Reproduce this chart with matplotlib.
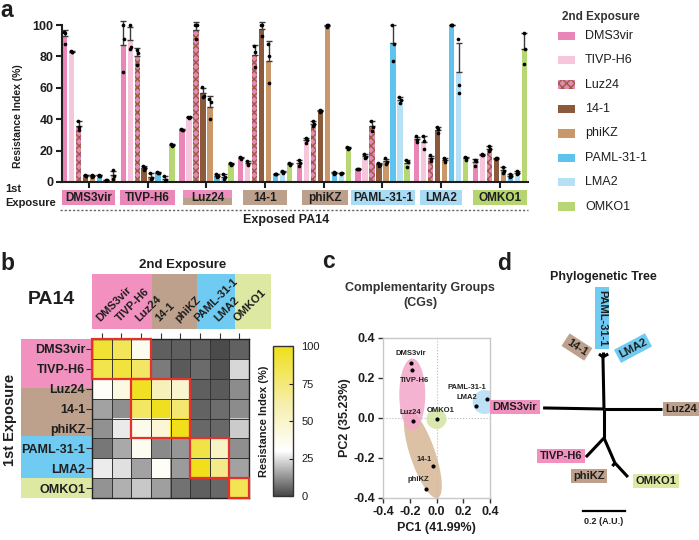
import numpy as np
import matplotlib
matplotlib.use('Agg')
import matplotlib.pyplot as plt
from matplotlib.patches import Rectangle, Polygon
from matplotlib.colors import LinearSegmentedColormap

plt.rcParams['font.family'] = ['Liberation Sans', 'DejaVu Sans']
plt.rcParams['axes.unicode_minus'] = False
plt.rcParams['hatch.linewidth'] = 1.0

W, H = 699, 540
TXT = '#1e1e1e'

# ---------------- data ----------------
phages = ['DMS3vir', 'TIVP-H6', 'Luz24', '14-1', 'phiKZ', 'PAML-31-1', 'LMA2', 'OMKO1']

# replicate resistance index (%) of each 2nd-exposure phage, per 1st-exposure group (same order)
ri_DMS3vir = [[95.5, 95, 88], [100, 91, 70], [33.5, 33, 33], [16, 15, 14.5],
              [14, 12, 10.5], [8.5, 8, 8], [29, 27, 25.5], [14, 13.5, 10.5]]
ri_TIVP_H6 = [[83.5, 83, 82.5], [100, 86, 85], [41.5, 41.5, 41], [13.5, 11.5, 11],
              [28, 27, 25], [18, 16, 15], [29, 26, 21], [18, 17.5, 17]]
ri_Luz24 = [[39, 35, 33], [84, 82, 74.5], [100, 100, 91], [86.5, 82.5, 73.5],
            [39, 37, 35.5], [39, 35, 32.5], [17, 14.5, 13.5], [23, 21, 19.5]]
ri_14_1 = [[4.5, 4, 4], [10, 9, 7.5], [60.5, 55, 54], [100, 100, 93],
           [46, 45, 44.5], [12, 11, 10.5], [35, 33.5, 31.5], [15, 15, 14.5]]
ri_phiKZ = [[4.5, 4, 3.5], [6, 2.5, 2], [53, 51, 40], [88, 80, 63],
            [100, 100, 99], [15, 13, 11.5], [15, 14, 12.5], [9.5, 7, 5.5]]
ri_PAML = [[4.5, 4, 4], [6.5, 6, 5.5], [5, 4, 3], [5, 5, 5],
           [6.5, 5.5, 5], [100, 88, 77], [100, 100, 100], [5, 4, 3]]
ri_LMA2 = [[1.5, 1, 0.5], [4, 1.5, 0.5], [5, 3, 2], [7, 6.5, 6],
           [6, 5.5, 5], [54, 52, 50], [91, 62, 57], [7, 5.5, 5]]
ri_OMKO1 = [[7.5, 4, 2], [24, 23.5, 23], [12, 11.5, 11], [12, 11.5, 11],
            [22, 21.5, 21], [14, 12.5, 9.5], [16, 15, 14], [95, 85, 75]]
ri_series = [ri_DMS3vir, ri_TIVP_H6, ri_Luz24, ri_14_1, ri_phiKZ, ri_PAML, ri_LMA2, ri_OMKO1]

# PCA coordinates
pc1 = [-0.193, -0.185, -0.175, -0.025, -0.075, 0.375, 0.295, 0.0]
pc2 = [0.276, 0.239, -0.017, -0.238, -0.356, 0.097, 0.060, -0.005]

# phylogenetic tree (A.U.)
tree_nodes = {'root': (0.0, 0.0), 'DMS3vir': (-0.290, 0.005), 'Luz24': (0.276, 0.0),
              'top': (-0.005, 0.248), 'PAML-31-1': (-0.005, 0.270), '14-1': (-0.024, 0.262),
              'LMA2': (0.020, 0.262), 'bottom': (0.0, -0.138), 'TIVP-H6': (-0.086, -0.229),
              'mid': (0.052, -0.257), 'OMKO1': (0.114, -0.324), 'phiKZ': (0.040, -0.272)}
tree_edges = [('root', 'DMS3vir'), ('root', 'Luz24'), ('root', 'top'), ('top', 'PAML-31-1'),
              ('top', '14-1'), ('top', 'LMA2'), ('root', 'bottom'), ('bottom', 'TIVP-H6'),
              ('bottom', 'mid'), ('mid', 'OMKO1'), ('mid', 'phiKZ')]
scale_bar_len = 0.2

# ---------------- styles ----------------
bar_colors = ['#e986b7', '#f6c6dd', '#e986b7', '#8b5a3a', '#c8976a', '#5ec4ee', '#b5e0f6', '#b7d775']
hatch_brown = '#93603f'
grp_pink, grp_brown, grp_blue, grp_green = '#f291c0', '#bea18c', '#6fcbf1', '#dde9a3'
phage_group_color = [grp_pink, grp_pink, grp_brown, grp_brown, grp_brown, grp_blue, grp_blue, grp_green]

fig = plt.figure(figsize=(W / 100, H / 100), dpi=100)
fig.patch.set_facecolor('white')


def px_axes(x0, y0, x1, y1, **kw):
    return fig.add_axes([x0 / W, 1 - y1 / H, (x1 - x0) / W, (y1 - y0) / H], **kw)


ov = px_axes(0, 0, W, H)
ov.set_xlim(0, W)
ov.set_ylim(H, 0)
ov.axis('off')

# panel letters
for lt, (lx, ly) in zip('abcd', [(0, 17), (0, 270), (322, 268), (497, 270)]):
    ov.text(lx, ly, lt, fontsize=16.5, fontweight='bold', va='baseline', ha='left', color=TXT)

# ================= panel a =================
axa = px_axes(62, 25 - 3 * 1.57, 528, 182)
n = len(phages)
gx = np.arange(n)
step, bw = 0.119, 0.092
means = []
for s, reps in enumerate(ri_series):
    arr = np.array(reps, float)
    m = arr.mean(1)
    sd = arr.std(1, ddof=1)
    means.append(m)
    x = gx + (s - 3.5) * step
    if phages[s] == 'Luz24':
        axa.bar(x, m, bw, color=bar_colors[s], edgecolor=hatch_brown, linewidth=0,
                hatch='xxxx', zorder=2)
    else:
        axa.bar(x, m, bw, color=bar_colors[s], linewidth=0, zorder=2)
    axa.errorbar(x, m, yerr=[np.zeros(n), sd], fmt='none', ecolor='#3a3a3a',
                 elinewidth=1.0, capsize=2.0, capthick=1.0, zorder=3)
    for k, off in enumerate([-0.012, 0.012, 0.0]):
        axa.scatter(x + off, arr[:, k], s=7, color='black', linewidths=0, zorder=4)
means = np.array(means)  # [series, group]

axa.set_xlim(-0.46, 7.48)
axa.set_ylim(0, 103)
axa.spines['left'].set_bounds(0, 100)
for sp in ['top', 'right']:
    axa.spines[sp].set_visible(False)
for sp in ['left', 'bottom']:
    axa.spines[sp].set_linewidth(1.5)
    axa.spines[sp].set_color(TXT)
axa.set_xticks(gx)
axa.set_xticklabels([])
axa.set_yticks([0, 20, 40, 60, 80, 100])
axa.set_yticklabels(['0', '20', '40', '60', '80', '100'], fontweight='bold', fontsize=9, color=TXT)
axa.tick_params(axis='both', length=4, width=1.5, color=TXT, pad=2)
axa.patch.set_alpha(0)
ov.text(18, 116, 'Resistance Index (%)', rotation=90, ha='center', va='center',
        fontsize=7.5, fontweight='bold', color=TXT)

# category boxes under panel a
cat_box_px = [(62, 115), (120, 175), (183, 232), (243, 287), (302, 348), (351, 415), (420, 462), (473, 527)]
cat_box_col = ['#e987b8', '#e987b8', None, '#bda08b', '#bda08b', '#a9dcf4', '#a9dcf4', '#b6d46f']
for name, (x0, x1), c in zip(phages, cat_box_px, cat_box_col):
    if c is None:
        ov.add_patch(Rectangle((x0, 190), x1 - x0, 8, fc='#ee8fc0', ec='none'))
        ov.add_patch(Rectangle((x0, 198), x1 - x0, 7, fc='#bda08b', ec='none'))
    else:
        ov.add_patch(Rectangle((x0, 190), x1 - x0, 15, fc=c, ec='none'))
    ov.text((x0 + x1) / 2, 197.8, name, ha='center', va='center', fontsize=8.5,
            fontweight='bold', color=TXT, zorder=5)
ov.text(5, 189, '1st', ha='left', va='center', fontsize=8, fontweight='bold', color=TXT)
ov.text(5, 203.5, 'Exposure', ha='left', va='center', fontsize=8, fontweight='bold', color=TXT)
ov.plot([60, 528], [210, 210], color='#666666', lw=1.0, ls=(0, (1.6, 1.4)))
ov.text(286, 220, 'Exposed PA14', ha='center', va='center', fontsize=9, fontweight='bold', color=TXT)

# legend
ov.text(562, 16.7, '2nd Exposure', ha='left', va='center', fontsize=8.5, fontweight='bold', color='#333333')
for i, name in enumerate(phages):
    yc = 35.7 + i * 24.4
    if name == 'Luz24':
        ov.add_patch(Rectangle((558, yc - 4.2), 17, 8.4, fc=bar_colors[i], ec=hatch_brown,
                               lw=0, hatch='xxxx'))
    else:
        ov.add_patch(Rectangle((558, yc - 4.2), 17, 8.4, fc=bar_colors[i], ec='none'))
    ov.text(585, yc, name, ha='left', va='center', fontsize=9, color=TXT)

# ================= panel b =================
ov.text(183, 265, '2nd Exposure', ha='center', va='center', fontsize=9.5, fontweight='bold', color=TXT)
ov.text(51, 299.5, 'PA14', ha='center', va='center', fontsize=14, fontweight='bold', color=TXT)
for (x0, x1), c in zip([(92, 152), (152, 197), (197, 235), (235, 271)], [grp_pink, grp_brown, grp_blue, grp_green]):
    ov.add_patch(Rectangle((x0, 274), x1 - x0, 55, fc=c, ec='none'))
for (y0, y1), c in zip([(339, 388), (388, 436), (436, 478), (478, 498)], [grp_pink, grp_brown, grp_blue, grp_green]):
    ov.add_patch(Rectangle((21, y0), 71, y1 - y0, fc=c, ec='none'))
ov.text(10, 420, '1st Exposure', rotation=90, ha='center', va='center', fontsize=10.5,
        fontweight='bold', color=TXT)

heat = means.T  # rows: 1st exposure, cols: 2nd exposure
cmap = LinearSegmentedColormap.from_list('ri', [(0.0, '#474747'), (0.3, '#ffffff'),
                                                (0.62, '#f6eeaa'), (1.0, '#f0df1a')])
axb = px_axes(92, 339, 249, 498)
im = axb.imshow(heat, cmap=cmap, vmin=0, vmax=100, extent=(0, 8, 8, 0), aspect='auto',
                interpolation='nearest')
axb.set_xlim(0, 8)
axb.set_ylim(8, 0)
for k in range(1, 8):
    axb.axvline(k, color='#333333', lw=0.7)
    axb.axhline(k, color='#333333', lw=0.7)
for sp in axb.spines.values():
    sp.set_linewidth(1.0)
    sp.set_color('#222222')
red_blocks = [(0, 0, 3, 2), (2, 2, 3, 3), (5, 5, 2, 2), (7, 7, 1, 1)]
for (c0, r0, w, h) in red_blocks:
    axb.add_patch(Rectangle((c0, r0), w, h, fill=False, ec='#e4312b', lw=1.6, zorder=5, clip_on=False))
axb.xaxis.set_ticks_position('top')
axb.set_xticks(np.arange(8) + 0.5)
axb.set_xticklabels(phages, rotation=45, ha='left', va='bottom', rotation_mode='anchor',
                    fontweight='bold', fontsize=8, color=TXT)
axb.set_yticks(np.arange(8) + 0.5)
axb.set_yticklabels(phages, fontweight='bold', fontsize=9, color=TXT)
axb.tick_params(axis='x', top=True, bottom=False, labeltop=True, labelbottom=False,
                length=4, width=0.8, color='#333333', pad=7)
axb.tick_params(axis='y', length=4, width=0.8, color='#333333', pad=1)

cax = px_axes(273, 346, 293, 496)
cb = fig.colorbar(im, cax=cax, ticks=[0, 25, 50, 75, 100])
cb.outline.set_linewidth(1.0)
cb.outline.set_edgecolor('#333333')
cax.yaxis.set_ticks_position('right')
cax.tick_params(direction='in', length=3, width=0.8, labelsize=8, pad=6, colors=TXT)
cax.yaxis.set_label_position('left')
cb.set_label('Resistance Index (%)', fontweight='bold', fontsize=8, labelpad=3, color=TXT)

# ================= panel c =================
ov.text(420, 288, 'Complementarity Groups', ha='center', va='center', fontsize=9,
        fontweight='bold', color='#333333')
ov.text(420, 303, '(CGs)', ha='center', va='center', fontsize=9, fontweight='bold', color='#333333')

axc = px_axes(383, 338, 490, 498)
axc.set_xlim(-0.4, 0.4)
axc.set_ylim(-0.4, 0.4)
sx, sy = 107 / 0.8, 160 / 0.8


def blob(cx, cy, a_px, b_px, ang, color, alpha):
    t = np.linspace(0, 2 * np.pi, 160)
    ca, sa = np.cos(np.radians(ang)), np.sin(np.radians(ang))
    ux, uy = a_px * np.cos(t), b_px * np.sin(t)
    rx, ry = ux * ca - uy * sa, ux * sa + uy * ca
    axc.add_patch(Polygon(np.c_[cx + rx / sx, cy + ry / sy], closed=True, fc=color,
                          ec='none', alpha=alpha, zorder=1))


blob(-0.102, -0.182, 46, 12.5, 108.8, '#d8b796', 0.85)
blob(-0.181, 0.1175, 13, 36, 0, '#f4a6cb', 0.85)
blob(pc1[7], pc2[7], 10, 10, 0, '#d5e6a6', 0.9)
blob(0.36, 0.08, 12, 12, 0, '#b8def4', 0.9)
axc.axvline(0, color='#bbbbbb', lw=0.8, ls=':', zorder=0)
axc.axhline(0, color='#bbbbbb', lw=0.8, ls=':', zorder=0)
axc.scatter(pc1, pc2, s=9, color='black', linewidths=0, zorder=4)
lab_off = [(0, 9.3), (3, -9.8), (-3, 8.4), (-9.3, 5.7), (-8.4, 9.6), (-20, 10.7), (-9.3, 8.8), (4, 8.5)]
for name, x, y, off in zip(phages, pc1, pc2, lab_off):
    axc.annotate(name, (x, y), xytext=off, textcoords='offset pixels', ha='center', va='center',
                 fontsize=5.5, fontweight='bold', color='#222222', zorder=5)
ticks = [-0.4, -0.2, 0.0, 0.2, 0.4]
tick_lab = ['-0.4', '-0.2', '0.0', '0.2', '0.4']
axc.set_xticks(ticks)
axc.set_xticklabels(tick_lab, fontweight='bold', fontsize=9, color=TXT)
axc.set_yticks(ticks)
axc.set_yticklabels(tick_lab, fontweight='bold', fontsize=9, color=TXT)
axc.tick_params(length=3.5, width=1, color='#333333', pad=2)
for sp in axc.spines.values():
    sp.set_color('#c8c8c8')
    sp.set_linewidth(1.0)
axc.set_xlabel('PC1 (41.99%)', fontweight='bold', fontsize=9, color=TXT, labelpad=3)
axc.set_ylabel('PC2 (35.23%)', fontweight='bold', fontsize=9, color=TXT, labelpad=2)

# ================= panel d =================
ov.text(603, 277, 'Phylogenetic Tree', ha='center', va='center', fontsize=9, fontweight='bold', color=TXT)
ppu = 210.0
rootx, rooty = 604, 409
axd = px_axes(500, 280, 699, 530)
axd.set_xlim((500 - rootx) / ppu, (699 - rootx) / ppu)
axd.set_ylim((rooty - 530) / ppu, (rooty - 280) / ppu)
axd.axis('off')
for a, b in tree_edges:
    (x0, y0), (x1, y1) = tree_nodes[a], tree_nodes[b]
    axd.plot([x0, x1], [y0, y1], color='black', lw=2.2, solid_capstyle='butt', zorder=2)
tree_labels = {'PAML-31-1': ((-0.0095, 0.433), -90), '14-1': ((-0.129, 0.295), -33),
               'LMA2': ((0.138, 0.290), 28), 'DMS3vir': ((-0.424, 0.0095), 0),
               'Luz24': ((0.367, 0.0), 0), 'TIVP-H6': ((-0.205, -0.224), 0),
               'phiKZ': ((-0.071, -0.319), 0), 'OMKO1': ((0.248, -0.343), 0)}
for i, name in enumerate(phages):
    (lx, ly), rot = tree_labels[name]
    axd.text(lx, ly, name, rotation=rot, ha='center', va='center', fontsize=8, fontweight='bold',
             color=TXT, rotation_mode='anchor', zorder=3,
             bbox=dict(boxstyle='square,pad=0.22', fc=phage_group_color[i], ec='none'))
sb_y = (rooty - 511) / ppu
axd.plot([-scale_bar_len / 2, scale_bar_len / 2], [sb_y, sb_y], color='black', lw=1.6)
axd.text(0.0, (rooty - 522) / ppu, '0.2 (A.U.)', ha='center', va='center', fontsize=6.5,
         fontweight='bold', color=TXT)

fig.savefig('out.png', dpi=100, facecolor='white')
